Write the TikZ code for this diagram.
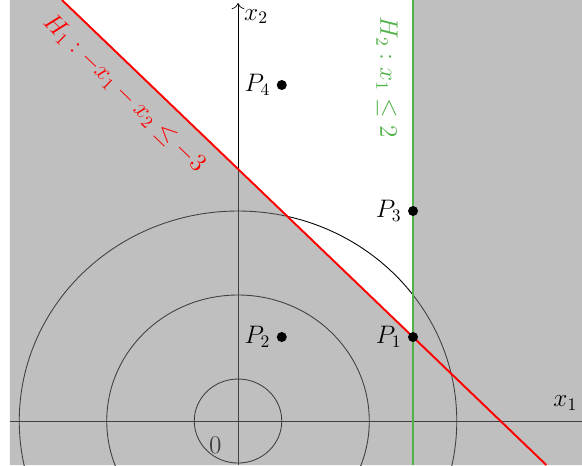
\documentclass[tikz,border=0pt]{standalone}
\usetikzlibrary{positioning,arrows.meta}
\definecolor{hgreen}{RGB}{80,178,72}
\begin{document}
\begin{tikzpicture}[x=1.75cm, y=1.68cm, font=\fontsize{14}{16}\selectfont,
  dot/.style={circle, fill=black, inner sep=0pt, minimum size=0.2cm},
  hline/.style={line width=1.1pt}]
\useasboundingbox (-2.72,-0.524) rectangle (3.931,5.012);
% Level sets and axes (under the shading)
\foreach \r in {0.5,1.5,2.5}
  \draw[line width=0.5pt] (0,0) circle[radius=\r];
\draw (-2.606,0) -- (3.931,0);
\draw[-{To[scale=1.4]}] (0,-0.524) -- (0,4.976) node[below right] (x2) {$x_2$};
\node (o) at (-0.26,-0.29) {$0$};

% Shaded region: outside H1 or H2
\fill[gray, opacity=0.5, even odd rule] (-2.606,-0.524) rectangle (3.931,5.012)
  (-2.012,5.012) -- (2,1) -- (2,5.012) -- cycle;
\node (x1) at (3.74,0.21) {$x_1$};

% Half-planes
\coordinate (h1a) at (-2.012,5.012);
\coordinate (h1b) at (3.524,-0.524);
\draw[red, hline] (h1a) -- (h1b);
\node[red, rotate=-44] (h1) at (-1.3,3.9) {$H_1: -x_1 - x_2 \leq -3$};
\coordinate (h2a) at (2,-0.524);
\coordinate (h2b) at (2,5.012);
\draw[hgreen, hline] (h2a) -- (h2b);
\node[hgreen, rotate=-90] (h2) at (1.703,4.095) {$H_2: x_1 \leq 2$};

% Points
\node[dot, label=left:$P_1$] (p1) at (2,1) {};
\node[dot, label=left:$P_2$] (p2) at (0.5,1) {};
\node[dot, label=left:$P_3$] (p3) at (2,2.5) {};
\node[dot, label=left:$P_4$] (p4) at (0.5,4) {};
\end{tikzpicture}
\end{document}
